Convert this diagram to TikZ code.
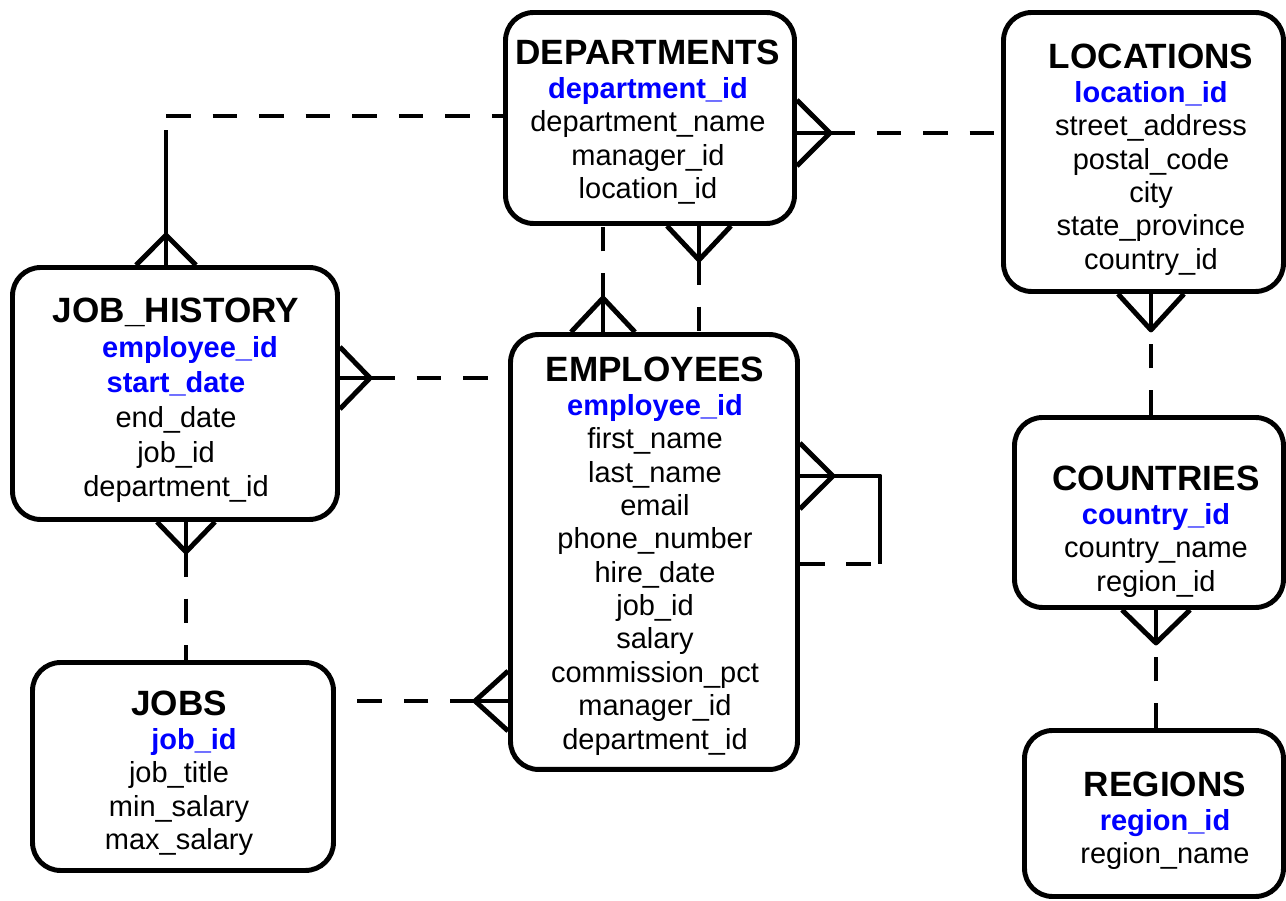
\documentclass[tikz,border=0pt]{standalone}
\usepackage{fontspec}
\setmainfont{Liberation Sans}
\usetikzlibrary{calc}
\newcommand{\entname}{\fontsize{20}{19}\selectfont\bfseries}
\newcommand{\pk}[1]{{\color{blue}\bfseries #1}}
\tikzset{entity/.style={rectangle,rounded corners=0.56cm,draw=black,line width=2.8pt,inner sep=0pt}}
\tikzset{attrs/.style={align=center,anchor=north,inner sep=0pt,font=\fontsize{16.5}{19}\selectfont}}
\tikzset{rel/.style={line width=2.8pt,line join=round}}
\tikzset{opt/.style={rel,dash pattern=on 14pt off 12.5pt}}

\begin{document}
\begin{tikzpicture}[x=0.02cm,y=-0.02cm]
\useasboundingbox (0,0) rectangle (1286,901);

\node[entity, minimum width=5.78cm, minimum height=4.22cm] (dept) at (650,118) {};
\node[entity, minimum width=5.6cm, minimum height=5.58cm] (loc) at (1143.5,152) {};
\node[entity, minimum width=6.5cm, minimum height=5.04cm] (jh) at (175,393.5) {};
\node[entity, minimum width=5.74cm, minimum height=8.7cm] (emp) at (654,552) {};
\node[entity, minimum width=5.38cm, minimum height=3.8cm] (ctry) at (1149,512.5) {};
\node[entity, minimum width=6.02cm, minimum height=4.16cm] (jobs) at (183,766.5) {};
\node[entity, minimum width=5.18cm, minimum height=3.32cm] (reg) at (1154,813.5) {};

\node[attrs] (deptT) at (648,40) {{\entname DEPARTMENTS}\\ \pk{department\_id}\\ department\_name\\ manager\_id\\ location\_id};
\node[attrs] (locT) at (1151,44) {{\entname LOCATIONS}\\ \pk{location\_id}\\ street\_address\\ postal\_code\\ city\\ state\_province\\ country\_id};
\node[attrs, font=\fontsize{16.5}{19.8}\selectfont] (jhT) at (176,298) {{\entname JOB\_HISTORY}\\ \hspace*{0.56cm}\pk{employee\_id}\\ \pk{start\_date}\\ end\_date\\ job\_id\\ department\_id};
\node[attrs] (empT) at (655,357) {{\entname EMPLOYEES}\\ \pk{employee\_id}\\ first\_name\\ last\_name\\ email\\ phone\_number\\ hire\_date\\ job\_id\\ salary\\ commission\_pct\\ manager\_id\\ department\_id};
\node[attrs] (ctryT) at (1156,466) {{\entname COUNTRIES}\\ \pk{country\_id}\\ country\_name\\ region\_id};
\node[attrs] (jobsT) at (179,691) {{\entname JOBS}\\ \hspace*{0.6cm}\pk{job\_id}\\ job\_title\\ min\_salary\\ max\_salary};
\node[attrs] (regT) at (1165,772) {{\entname REGIONS}\\ \pk{region\_id}\\ region\_name};

\coordinate (jhA) at (166,235);
\coordinate (jhBend) at (166,116);
\coordinate (dlA) at (830,133);
\coordinate (deA) at (603,298);
\coordinate (mgA) at (699,260);
\coordinate (heA) at (370,378);
\coordinate (selfA) at (833,476);
\coordinate (selfB) at (880,564);
\coordinate (jeA) at (475,701);
\coordinate (hjA) at (186,552);
\coordinate (lcA) at (1151,330);
\coordinate (crA) at (1156,643);

% job_history - departments
\draw[rel] (jhA |- jh.north) -- ($(jhBend)+(0,14)$);
\draw[rel] ($(jhA |- jh.north)+(-30,0)$) -- (jhA) -- ($(jhA |- jh.north)+(30,0)$);
\draw[opt] (jhBend) -- (jhBend -| dept.west);
% departments - locations
\draw[rel] (dlA -| dept.east) -- (dlA);
\draw[rel] ($(dlA -| dept.east)+(0,-33)$) -- (dlA) -- ($(dlA -| dept.east)+(0,33)$);
\draw[opt] (dlA) -- (dlA -| loc.west);
% departments - employees
\draw[opt] (deA) -- (deA |- dept.south);
\draw[rel] (deA |- emp.north) -- (deA);
\draw[rel] ($(deA |- emp.north)+(-32,0)$) -- (deA) -- ($(deA |- emp.north)+(32,0)$);
\draw[rel] (mgA |- dept.south) -- (mgA);
\draw[rel] ($(mgA |- dept.south)+(-32,0)$) -- (mgA) -- ($(mgA |- dept.south)+(32,0)$);
\draw[opt] (mgA) -- (mgA |- emp.north);
% job_history - employees
\draw[rel] (heA -| jh.east) -- (heA);
\draw[rel] ($(heA -| jh.east)+(0,-31)$) -- (heA) -- ($(heA -| jh.east)+(0,31)$);
\draw[opt] (heA) -- (heA -| emp.west);
% employees - employees
\draw[rel] (selfA -| emp.east) -- (selfA) -- (selfA -| selfB) -- (selfB);
\draw[rel] ($(selfA -| emp.east)+(0,-33)$) -- (selfA) -- ($(selfA -| emp.east)+(0,33)$);
\draw[opt] (selfB -| emp.east) -- (selfB);
% jobs - employees
\draw[rel] (jeA -| emp.west) -- (jeA);
\draw[rel] ($(jeA -| emp.west)+(0,-30)$) -- (jeA) -- ($(jeA -| emp.west)+(0,30)$);
\draw[opt] (jeA) -- (jeA -| jobs.east);
% job_history - jobs
\draw[rel] (hjA |- jh.south) -- (hjA);
\draw[rel] ($(hjA |- jh.south)+(-29,0)$) -- (hjA) -- ($(hjA |- jh.south)+(29,0)$);
\draw[opt] (hjA) -- (hjA |- jobs.north);
% locations - countries
\draw[rel] (lcA |- loc.south) -- (lcA);
\draw[rel] ($(lcA |- loc.south)+(-33,0)$) -- (lcA) -- ($(lcA |- loc.south)+(33,0)$);
\draw[opt] (lcA |- ctry.north) -- (lcA);
% countries - regions
\draw[rel] (crA |- ctry.south) -- (crA);
\draw[rel] ($(crA |- ctry.south)+(-34,0)$) -- (crA) -- ($(crA |- ctry.south)+(34,0)$);
\draw[opt] (crA |- reg.north) -- (crA);
\end{tikzpicture}
\end{document}
